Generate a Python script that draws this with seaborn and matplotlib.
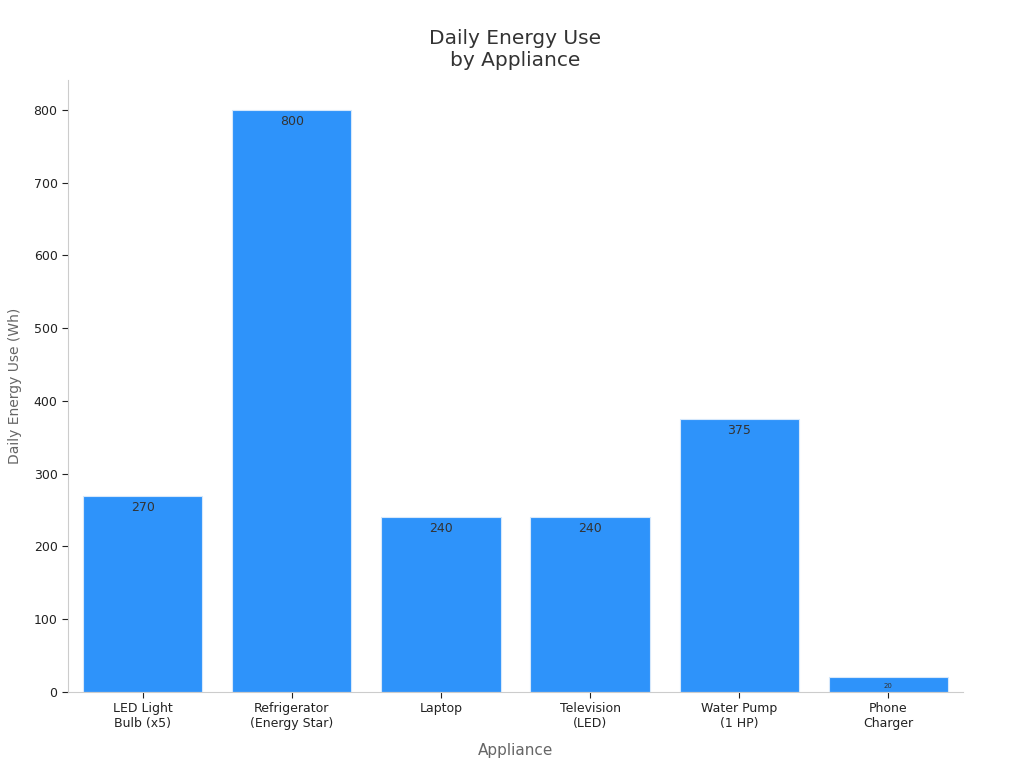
import matplotlib
matplotlib.use("Agg")
import matplotlib.pyplot as plt
import seaborn as sns
import pandas as pd

appliances = ["LED Light\nBulb (x5)", "Refrigerator\n(Energy Star)", "Laptop",
              "Television\n(LED)", "Water Pump\n(1 HP)", "Phone\nCharger"]
energy_wh = [270, 800, 240, 240, 375, 20]

df = pd.DataFrame({"Appliance": appliances, "Energy": energy_wh})

sns.set_theme(style="white")
plt.rcParams['font.family'] = ['DejaVu Sans']

fig = plt.figure(figsize=(10.24, 7.68), dpi=100)
ax = fig.add_axes([68 / 1024, 76 / 768, 895 / 1024, 612 / 768])

sns.barplot(data=df, x="Appliance", y="Energy", color="#2E93FA", width=0.8,
            saturation=1, edgecolor="#d6e8fb", linewidth=0.8, ax=ax)

# value labels just inside the top of each bar
for i, v in enumerate(energy_wh):
    size = 9 if v >= 100 else 5
    ax.text(i, v - 7, str(v), ha="center", va="top", fontsize=size, color="#333333")

ax.set_xlim(-0.5, 5.5)
ax.set_ylim(0, 841)
ax.set_yticks(range(0, 801, 100))

ax.set_title("Daily Energy Use\nby Appliance", fontsize=14.5, color="#333333", pad=10)
ax.set_xlabel("Appliance", fontsize=11, color="#666666", labelpad=9)
ax.set_ylabel("Daily Energy Use (Wh)", fontsize=10, color="#666666", labelpad=8)

ax.tick_params(axis="both", labelsize=9, colors="#222222", length=4, width=0.8,
               bottom=True, left=True)
for s in ["top", "right"]:
    ax.spines[s].set_visible(False)
for s in ["left", "bottom"]:
    ax.spines[s].set_color("#cccccc")
    ax.spines[s].set_linewidth(0.8)

fig.savefig("out.png", dpi=100)
